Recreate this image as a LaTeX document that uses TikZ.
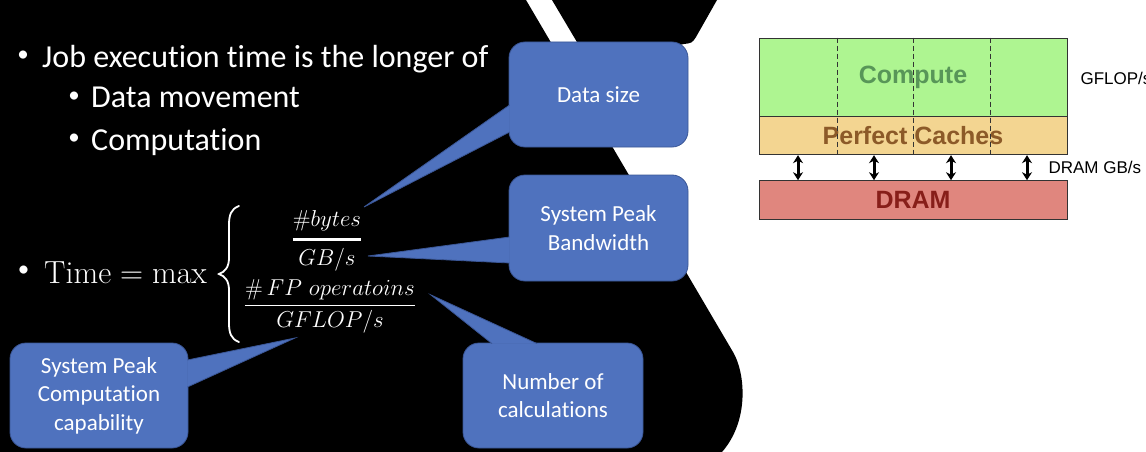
\documentclass[tikz,border=0pt]{standalone}
\usepackage{fix-cm}
\usepackage{amsmath}
\usepackage{fontspec}
\newfontfamily\calibri[Ligatures=NoCommon]{Carlito}
\newfontfamily\arial{Liberation Sans}
\usetikzlibrary{positioning}
\usetikzlibrary{calc}
\usetikzlibrary{arrows.meta}

\definecolor{callblue}{RGB}{79,114,190}
\definecolor{callrim}{RGB}{58,86,150}
\definecolor{cgreen}{RGB}{174,245,145}
\definecolor{ctgreen}{RGB}{88,150,88}
\definecolor{corange}{RGB}{243,213,145}
\definecolor{ctorange}{RGB}{140,90,40}
\definecolor{cred}{RGB}{224,134,126}
\definecolor{ctred}{RGB}{135,30,25}

\tikzset{
  callout/.style={fill=callblue, draw=callrim, line width=0.8pt, rounded corners=16pt,
    text=white, align=center, inner sep=0pt, font=\calibri\fontsize{23}{28.5}\selectfont},
  tail/.style={fill=callblue, draw=callrim, line width=0.8pt},
  slidetext/.style={text=white, anchor=base west, inner sep=0pt, font=\calibri\fontsize{32}{38}\selectfont},
  dot/.style={text=white, inner sep=0pt, font=\calibri\fontsize{23}{26}\selectfont},
  mathtext/.style={text=white, inner sep=0pt, font=\fontsize{23}{27}\selectfont},
  layer/.style={draw=black!80, line width=0.8pt, minimum width=308pt, inner sep=0pt,
    font=\arial\bfseries\fontsize{25}{30}\selectfont},
  bwarrow/.style={{Stealth[length=8pt,width=10pt]}-{Stealth[length=8pt,width=10pt]}, line width=3pt},
  ratelabel/.style={anchor=west, inner sep=0pt, font=\arial\fontsize{17}{20}\selectfont}
}

\begin{document}
\begin{tikzpicture}[x=1pt,y=-1pt]
\useasboundingbox[fill=white] (0,0) rectangle (1146,452);
\fill[black] (0,0) -- (526,0) -- (733,352) .. controls (745,372) and (750,420) .. (722,452) -- (0,452) -- cycle;
\fill[black] (552,0) -- (717,0) -- (696,37) .. controls (692,43) .. (684,44) -- (590,64) -- cycle;

% left half: bullets and the formula
\node[slidetext] (job) at (42,67) {Job execution time is the longer of};
\node[slidetext] (move) at (91,107) {Data movement};
\node[slidetext] (comp) at (91,150) {Computation};
\foreach \x/\y [count=\n] in {23/56.5,74/97,74/139,23.5/271.5}
    {\node[dot] (dot\n) at (\x,\y) {•};}

\node[text=white, anchor=base west, inner sep=0pt, font=\fontsize{32}{38}\selectfont] (time) at (44,283) {$\mathrm{Time}=\max$};
\draw[white, line width=1.8pt, line cap=round]
    (239,206) .. controls (231,209) and (229,215) .. (229,225) -- (229,258)
    .. controls (229,267) and (225,272) .. (219,274) .. controls (225,276) and (229,281) .. (229,290)
    -- (229,323) .. controls (229,333) and (231,339) .. (239,342);
\node[mathtext, anchor=base] (fracbytes) at (327,245) {$\genfrac{}{}{2.5pt}{0}{\#bytes}{GB/s}$};
\node[mathtext, anchor=base] (fracflop) at (330,311) {$\genfrac{}{}{1.5pt}{0}{\#\,FP\ operatoins}{GFLOP/s}$};

% callouts
\node[callout, minimum width=179pt, minimum height=105pt] (datasize) at (598.5,94.5) {Data size};
\node[callout, minimum width=179pt, minimum height=106pt] (peakbw) at (598.5,228) {System Peak\\Bandwidth};
\node[callout, minimum width=180pt, minimum height=105pt] (numcalc) at (553,395.5) {Number of\\calculations};
\node[callout, minimum width=178pt, minimum height=105pt] (peakcomp) at (99,395.5) {System Peak\\Computation\\capability};

\coordinate (tipsize) at (364,207);
\coordinate (tipbw) at (368,256);
\coordinate (tipcalc) at (431,295);
\coordinate (tipcomp) at (295,338);
\path[tail] ([xshift=1pt,yshift=-10.5pt]datasize.west) -- (tipsize) -- ([xshift=1pt,yshift=-37.5pt]datasize.west);
\path[tail] ([xshift=1pt,yshift=-9pt]peakbw.west) -- (tipbw) -- ([xshift=1pt,yshift=-35pt]peakbw.west);
\path[tail] ([xshift=-61pt,yshift=-1pt]numcalc.north) -- (tipcalc) -- ([xshift=-16pt,yshift=-1pt]numcalc.north);
\path[tail] ([xshift=-1pt,yshift=35.5pt]peakcomp.east) -- (tipcomp) -- ([xshift=-1pt,yshift=8.5pt]peakcomp.east);

% right half: the machine
\node[layer, fill=cgreen, text=ctgreen, minimum height=78pt] (compute) at (913,77) {Compute};
\node[layer, fill=corange, text=ctorange, minimum height=38pt, below=0pt of compute] (caches) {Perfect Caches};
\node[layer, fill=cred, text=ctred, minimum height=39pt, below=25pt of caches] (dram) {DRAM};
\foreach \dx in {-76,0,77}
    {\draw[black!80, line width=0.8pt, dash pattern=on 5pt off 3pt] ([xshift=\dx pt]compute.north) -- ([xshift=\dx pt]caches.south);}
\foreach \dx in {-115,-39,38,114}
    {\draw[bwarrow] ([xshift=\dx pt]caches.south) -- ([xshift=\dx pt]dram.north);}
\node[ratelabel] (gflops) at ([xshift=13pt,yshift=-1pt]compute.east) {GFLOP/s};
\node[ratelabel] (dramgbs) at ([xshift=-19pt]$(caches.south east)!0.5!(dram.north east)$) {DRAM GB/s};
\end{tikzpicture}
\end{document}
